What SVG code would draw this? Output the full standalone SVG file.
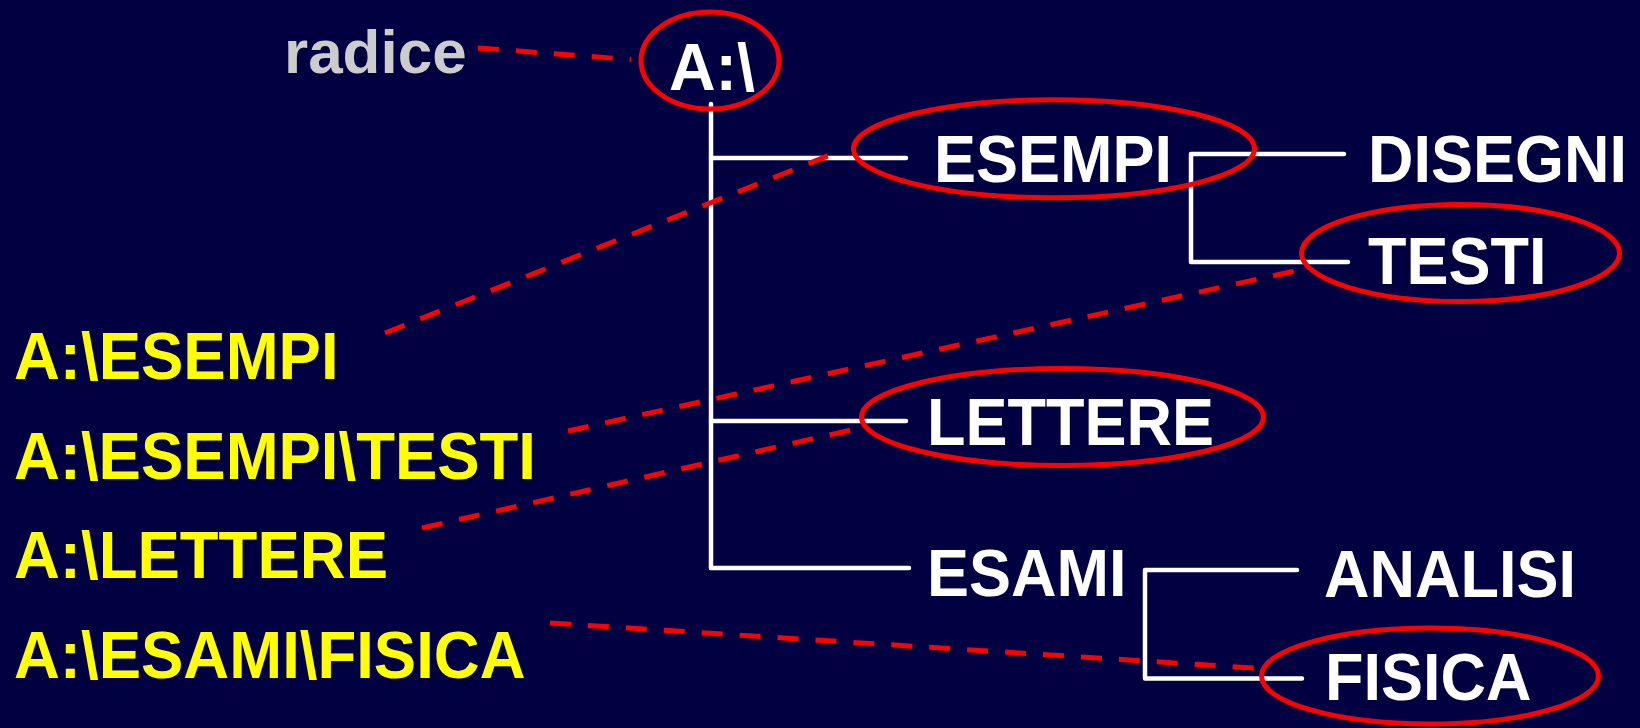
<svg xmlns="http://www.w3.org/2000/svg" width="1640" height="728" viewBox="0 0 1640 728">
<style>
  .t { font-family: "Liberation Sans", Arial, sans-serif; font-weight: bold; }
  .w { fill: #FFFFFF; font-size: 66px; }
  .y { fill: #FFFF00; font-size: 66px; }
  .g { fill: #CCCCCC; font-size: 62px; }
  .tree { fill: none; stroke: #FFFFFF; stroke-width: 4.5; stroke-linecap: round; stroke-linejoin: round; }
  .dash { fill: none; stroke: #FF0000; stroke-width: 5; stroke-dasharray: 21 17; }
  .ring { fill: none; stroke: #FF0000; stroke-width: 5; }
</style>
<rect x="0" y="0" width="1640" height="728" fill="#010040"/>
<g id="connectors">
  <path class="tree" d="M711 104 V568"/>
  <path class="tree" d="M711 158 H906"/>
  <path class="tree" d="M711 421 H906"/>
  <path class="tree" d="M711 568 H909"/>
  <path class="tree" d="M1344 154 H1191 V262 H1348"/>
  <path class="tree" d="M1297 570 H1145 V678.5 H1302"/>
  <path class="dash" d="M478 48 L631 59.5"/>
  <path class="dash" d="M385 333 L830 155"/>
  <path class="dash" d="M568 431 L1297 270.5"/>
  <path class="dash" d="M422 528 L864 427"/>
  <path class="dash" d="M550 623 L1254 668"/>
</g>
<g id="node-radice"><text class="t g" x="284" y="73">radice</text></g>
<g id="node-root">
  <ellipse class="ring" cx="710" cy="60.5" rx="69" ry="48.5"/>
  <text class="t w" x="669" y="90" textLength="86" lengthAdjust="spacingAndGlyphs">A:\</text>
</g>
<g id="node-esempi">
  <ellipse class="ring" cx="1054" cy="148.7" rx="200.5" ry="49"/>
  <text class="t w" x="934" y="182" textLength="238" lengthAdjust="spacingAndGlyphs">ESEMPI</text>
</g>
<g id="node-disegni"><text class="t w" x="1368" y="182" textLength="259" lengthAdjust="spacingAndGlyphs">DISEGNI</text></g>
<g id="node-testi">
  <ellipse class="ring" cx="1460.5" cy="253" rx="159" ry="48.5"/>
  <text class="t w" x="1368" y="284" textLength="178.5" lengthAdjust="spacingAndGlyphs">TESTI</text>
</g>
<g id="node-lettere">
  <ellipse class="ring" cx="1062.5" cy="417" rx="201" ry="48.5"/>
  <text class="t w" x="927" y="445" textLength="287" lengthAdjust="spacingAndGlyphs">LETTERE</text>
</g>
<g id="node-esami"><text class="t w" x="927" y="596" textLength="199.5" lengthAdjust="spacingAndGlyphs">ESAMI</text></g>
<g id="node-analisi"><text class="t w" x="1324" y="597" textLength="252" lengthAdjust="spacingAndGlyphs">ANALISI</text></g>
<g id="node-fisica">
  <ellipse class="ring" cx="1430" cy="676" rx="168.5" ry="48"/>
  <text class="t w" x="1325" y="700" textLength="206.5" lengthAdjust="spacingAndGlyphs">FISICA</text>
</g>
<g id="path-esempi"><text class="t y" x="14" y="379" textLength="324.6" lengthAdjust="spacingAndGlyphs">A:\ESEMPI</text></g>
<g id="path-testi"><text class="t y" x="14" y="479" textLength="522" lengthAdjust="spacingAndGlyphs">A:\ESEMPI\TESTI</text></g>
<g id="path-lettere"><text class="t y" x="14" y="578" textLength="374" lengthAdjust="spacingAndGlyphs">A:\LETTERE</text></g>
<g id="path-fisica"><text class="t y" x="14" y="678" textLength="511.6" lengthAdjust="spacingAndGlyphs">A:\ESAMI\FISICA</text></g>
</svg>
